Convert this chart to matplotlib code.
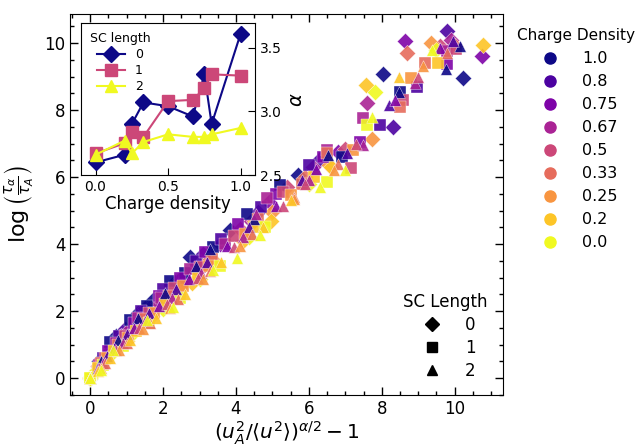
import numpy as np
import matplotlib.pyplot as plt
from matplotlib.lines import Line2D
from matplotlib.ticker import MultipleLocator

# charge densities, listed top to bottom in the legend
densities = ["1.0", "0.8", "0.75", "0.67", "0.5", "0.33", "0.25", "0.2", "0.0"]
sc_lengths = [0, 1, 2]

# scaled displacement (x) and log relaxation time ratio (y), per SC length and density
sc0_x = {
    "1.0": [0.0, 0.25, 0.7, 1.3, 1.73, 2.74, 3.84, 5.7, 8.03, 10.22],
    "0.8": [0.0, 0.4, 0.95, 1.5, 2.3, 3.1, 4.6, 6.3, 8.3, 9.78],
    "0.75": [0.0, 0.3, 0.85, 1.6, 2.45, 3.55, 4.9, 6.8, 8.63, 10.74],
    "0.67": [0.0, 0.45, 1.05, 1.85, 2.6, 3.3, 4.4, 6.1, 7.6, 9.9],
    "0.5": [0.0, 0.2, 0.6, 1.2, 2.05, 2.9, 4.1, 5.4, 7.0, 9.6],
    "0.33": [0.0, 0.35, 0.9, 1.45, 2.2, 3.15, 4.5, 5.9, 8.68, 10.0],
    "0.25": [0.0, 0.25, 0.75, 1.35, 2.5, 3.4, 5.0, 6.55, 7.73, 9.34],
    "0.2": [0.0, 0.4, 1.0, 1.7, 2.8, 4.2, 4.95, 6.6, 7.56, 10.77],
    "0.0": [0.0, 0.15, 0.55, 1.15, 2.0, 3.0, 4.35, 6.0, 7.81, 9.5],
}
sc0_y = {
    "1.0": [0.0, 0.5, 1.25, 1.95, 2.33, 3.61, 4.42, 6.06, 9.07, 8.96],
    "0.8": [0.0, 0.65, 1.45, 2.1, 2.85, 3.7, 4.95, 6.55, 7.5, 10.36],
    "0.75": [0.0, 0.5, 1.25, 2.1, 2.95, 4.0, 5.25, 6.75, 10.07, 9.6],
    "0.67": [0.0, 0.65, 1.4, 2.25, 2.95, 3.6, 4.7, 6.3, 8.2, 10.1],
    "0.5": [0.0, 0.35, 0.9, 1.6, 2.45, 3.25, 4.45, 5.7, 6.85, 9.9],
    "0.33": [0.0, 0.5, 1.15, 1.8, 2.55, 3.4, 4.7, 6.0, 9.7, 9.9],
    "0.25": [0.0, 0.35, 0.95, 1.6, 2.75, 3.5, 4.95, 6.35, 7.13, 10.01],
    "0.2": [0.0, 0.5, 1.1, 1.85, 2.85, 4.1, 4.7, 6.3, 8.75, 9.94],
    "0.0": [0.0, 0.2, 0.7, 1.3, 2.05, 2.95, 4.2, 5.8, 8.55, 9.8],
}
sc1_x = {
    "1.0": [0.0, 0.55, 1.1, 1.55, 2.2, 2.6, 3.37, 4.3, 5.2, 6.9, 8.5],
    "0.8": [0.0, 0.35, 0.8, 1.4, 2.0, 2.9, 3.6, 4.7, 6.0, 7.95, 8.96],
    "0.75": [0.0, 0.5, 1.2, 1.9, 2.45, 3.15, 4.05, 5.1, 6.4, 7.4, 9.78],
    "0.67": [0.0, 0.25, 0.7, 1.3, 1.95, 2.75, 3.7, 4.85, 6.5, 7.48, 9.78],
    "0.5": [0.0, 0.4, 0.95, 1.6, 2.3, 3.0, 3.95, 5.3, 7.15, 8.58, 10.05],
    "0.33": [0.0, 0.3, 0.75, 1.45, 2.15, 3.35, 4.6, 5.8, 6.49, 8.49, 9.18],
    "0.25": [0.0, 0.45, 1.05, 1.75, 2.55, 3.25, 4.25, 5.5, 7.2, 8.79],
    "0.2": [0.0, 0.2, 0.65, 1.25, 2.05, 2.95, 4.5, 6.15, 9.53],
    "0.0": [0.0, 0.35, 0.9, 1.6, 2.45, 3.55, 4.8, 6.5, 7.59],
}
sc1_y = {
    "1.0": [0.0, 1.08, 1.73, 2.15, 2.9, 3.15, 3.91, 4.9, 5.75, 6.61, 8.55],
    "0.8": [0.0, 0.6, 1.25, 2.0, 2.65, 3.5, 4.15, 5.1, 6.35, 7.55, 8.7],
    "0.75": [0.0, 0.8, 1.65, 2.45, 3.0, 3.75, 4.6, 5.5, 6.6, 7.05, 9.37],
    "0.67": [0.0, 0.4, 1.05, 1.8, 2.4, 3.25, 4.0, 5.37, 6.8, 7.76, 9.77],
    "0.5": [0.0, 0.6, 1.25, 1.95, 2.7, 3.3, 4.25, 5.55, 6.27, 8.3, 9.82],
    "0.33": [0.0, 0.45, 1.0, 1.75, 2.45, 3.55, 4.75, 5.8, 6.72, 8.09, 9.4],
    "0.25": [0.0, 0.6, 1.2, 1.95, 2.75, 3.35, 4.3, 5.45, 6.81, 8.96],
    "0.2": [0.0, 0.3, 0.8, 1.4, 2.2, 3.0, 4.5, 6.0, 9.4],
    "0.0": [0.0, 0.4, 0.95, 1.65, 2.4, 3.35, 4.5, 5.85, 7.55],
}
sc2_x = {
    "1.0": [0.0, 0.3, 0.75, 1.3, 2.05, 2.9, 3.3, 4.5, 6.52, 8.47, 9.75, 10.14],
    "0.8": [0.0, 0.45, 1.0, 1.6, 2.35, 3.2, 4.35, 5.8, 7.04, 8.2, 9.95],
    "0.75": [0.0, 0.2, 0.65, 1.2, 1.9, 2.7, 3.75, 5.1, 6.2, 8.35, 9.6],
    "0.67": [0.0, 0.35, 0.9, 1.5, 2.25, 3.05, 4.2, 4.55, 6.0, 7.48, 8.9],
    "0.5": [0.0, 0.25, 0.7, 1.35, 2.1, 2.95, 3.95, 5.3, 5.9, 7.3, 9.0],
    "0.33": [0.0, 0.4, 1.0, 1.65, 2.4, 3.3, 4.45, 5.6, 6.8, 9.78],
    "0.25": [0.0, 0.3, 0.8, 1.45, 2.2, 3.1, 4.1, 5.6, 6.7, 9.12],
    "0.2": [0.0, 0.2, 0.55, 1.1, 1.8, 2.6, 3.6, 4.75, 5.5, 8.47],
    "0.0": [0.0, 0.3, 0.63, 1.56, 2.27, 3.37, 4.03, 4.66, 6.3, 6.99, 7.73, 9.37],
}
sc2_y = {
    "1.0": [0.0, 0.5, 1.15, 1.8, 2.55, 3.35, 3.85, 4.75, 6.66, 8.55, 9.22, 9.91],
    "0.8": [0.0, 0.65, 1.3, 1.95, 2.65, 3.45, 4.5, 5.9, 6.72, 8.15, 10.07],
    "0.75": [0.0, 0.3, 0.9, 1.5, 2.15, 2.95, 3.95, 5.15, 6.25, 8.3, 9.85],
    "0.67": [0.0, 0.45, 1.05, 1.7, 2.4, 3.15, 4.2, 4.9, 5.9, 6.96, 8.8],
    "0.5": [0.0, 0.3, 0.85, 1.5, 2.2, 3.0, 3.9, 5.15, 5.8, 7.0, 9.0],
    "0.33": [0.0, 0.45, 1.05, 1.65, 2.35, 3.2, 4.3, 5.4, 6.4, 9.71],
    "0.25": [0.0, 0.3, 0.85, 1.45, 2.1, 2.95, 3.95, 5.35, 6.2, 9.31],
    "0.2": [0.0, 0.2, 0.6, 1.15, 1.8, 2.5, 3.45, 4.5, 5.3, 8.99],
    "0.0": [0.0, 0.25, 0.84, 1.73, 2.12, 3.22, 3.58, 4.27, 5.7, 6.21, 7.8, 9.79],
}
main_x = [sc0_x, sc1_x, sc2_x]
main_y = [sc0_y, sc1_y, sc2_y]

# fitted stretching exponent against charge density (inset)
inset_density = [0.0, 0.2, 0.25, 0.33, 0.5, 0.67, 0.75, 0.8, 1.0]
alpha_sc0 = [2.60, 2.66, 2.90, 3.07, 3.04, 2.96, 3.29, 2.90, 3.61]
alpha_sc1 = [2.67, 2.75, 2.84, 2.80, 3.08, 3.09, 3.18, 3.29, 3.28]
alpha_sc2 = [2.66, 2.77, 2.67, 2.76, 2.82, 2.80, 2.80, 2.82, 2.87]

markers = ["D", "s", "^"]
colors = plt.cm.plasma(np.linspace(0, 1, len(densities)))

fig = plt.figure(figsize=(6.38, 4.48), dpi=100)
ax = fig.add_axes([0.110, 0.118, 0.678, 0.851])

for i, sc in enumerate(sc_lengths):
    for c, d in zip(colors, densities):
        ax.scatter(main_x[i][d], main_y[i][d], marker=markers[i], color=c,
                   s=70, alpha=0.9, edgecolors="w", linewidths=0.3)

ax.set_xlim(-0.55, 11.32)
ax.set_ylim(-0.51, 10.87)
ax.xaxis.set_major_locator(MultipleLocator(2))
ax.xaxis.set_minor_locator(MultipleLocator(0.5))
ax.yaxis.set_major_locator(MultipleLocator(2))
ax.yaxis.set_minor_locator(MultipleLocator(0.5))
ax.tick_params(which="both", direction="in", top=True, right=True, labelsize=12)
ax.tick_params(which="major", length=6, width=1)
ax.tick_params(which="minor", length=3, width=1)
ax.set_xlabel(r"$(u_A^2/\langle u^2\rangle)^{\alpha/2}-1$", fontsize=14.5, labelpad=1)
ax.set_ylabel(r"$\log\left(\frac{\tau_\alpha}{\tau_A}\right)$", fontsize=16, labelpad=6)

dens_handles = [Line2D([], [], marker="o", ls="", color=c, markersize=8) for c in colors]
leg1 = ax.legend(dens_handles, densities, title="Charge Density", loc="upper left",
                 bbox_to_anchor=(1.0, 1.0), frameon=False, fontsize=11.5,
                 title_fontsize=11, labelspacing=0.5, handletextpad=1.0)
ax.add_artist(leg1)

sc_handles = [Line2D([], [], marker=m, ls="", color="k", markersize=7) for m in markers]
ax.legend(sc_handles, [str(s) for s in sc_lengths], title="SC Length", loc="lower right",
          frameon=False, fontsize=12, title_fontsize=12, labelspacing=0.3, handletextpad=1.0)

# inset: alpha vs charge density
ins = fig.add_axes([0.127, 0.609, 0.273, 0.339])
inset_alpha = [alpha_sc0, alpha_sc1, alpha_sc2]
inset_colors = [plt.cm.plasma(0.0), plt.cm.plasma(0.5), plt.cm.plasma(1.0)]
for a, m, c, s in zip(inset_alpha, markers, inset_colors, sc_lengths):
    ins.plot(inset_density, a, marker=m, color=c, markersize=9 if m == "^" else 8.5,
             lw=1.5, label=str(s))
ins.set_xlim(-0.1, 1.1)
ins.set_ylim(2.5, 3.69)
ins.set_xticks([0.0, 0.5, 1.0])
ins.set_yticks([2.5, 3.0, 3.5])
ins.yaxis.tick_right()
ins.yaxis.set_label_position("right")
ins.tick_params(direction="in", labelsize=10, length=5)
ins.set_xlabel("Charge density", fontsize=12, labelpad=1)
ins.set_ylabel(r"$\alpha$", fontsize=14, labelpad=4)
ins.legend(title="SC length", loc="upper left", frameon=False, fontsize=9,
           title_fontsize=9, labelspacing=0.25, borderaxespad=0.3, handlelength=2.2)

fig.savefig("out.png", dpi=100)
